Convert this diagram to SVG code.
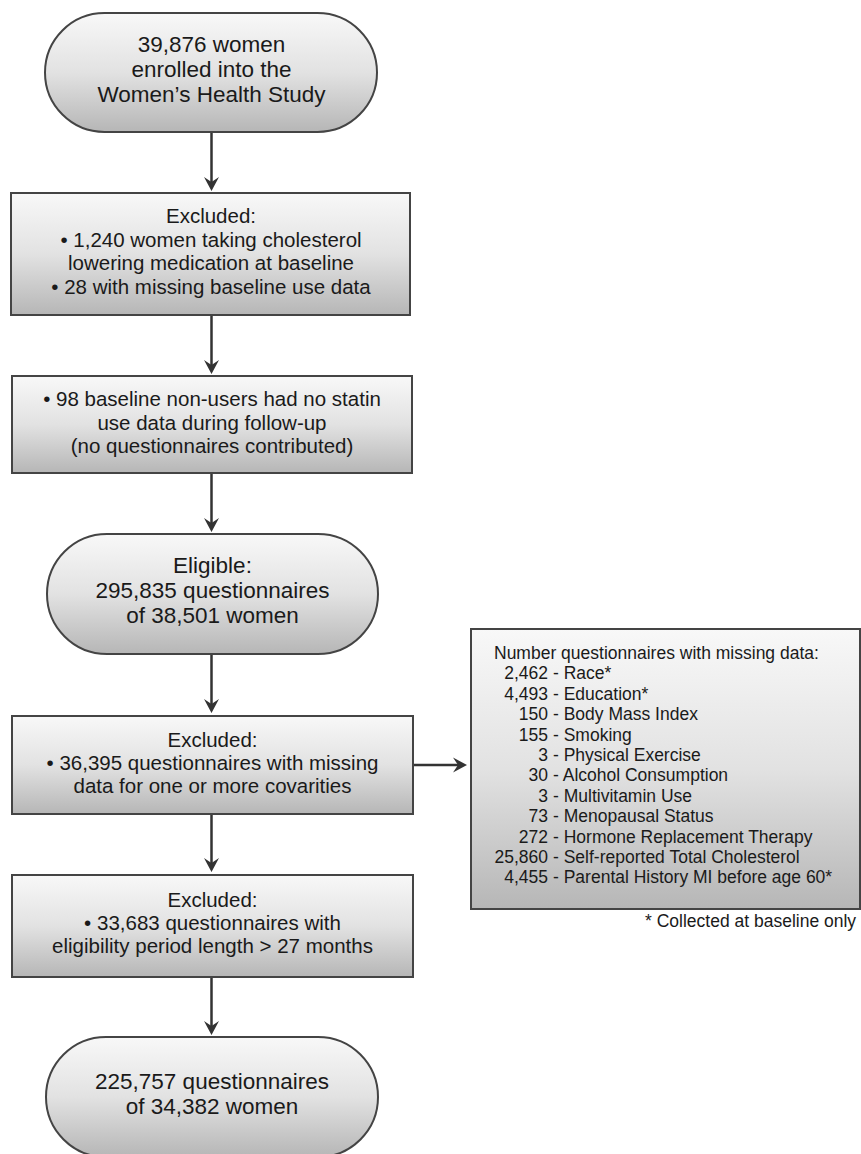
<svg xmlns="http://www.w3.org/2000/svg" width="861" height="1154" viewBox="0 0 861 1154">
  <defs>
    <linearGradient id="g" x1="0" y1="0" x2="0" y2="1">
      <stop offset="0" stop-color="#f8f8f8"/>
      <stop offset="0.5" stop-color="#e2e2e2"/>
      <stop offset="1" stop-color="#b6b6b6"/>
    </linearGradient>
    <marker id="ah" markerUnits="userSpaceOnUse" viewBox="-15 -9 16 18" markerWidth="16" markerHeight="18" refX="-9" refY="0" orient="auto">
      <path d="M0,0 L-14,-7.5 L-9,0 L-14,7.5 Z" fill="#333"/>
    </marker>
    <style>
      .shape { fill: url(#g); stroke: #444; stroke-width: 2; }
      .t { font-family: "Liberation Sans", Arial, Helvetica, sans-serif; fill: #1a1a1a; }
      .big { font-size: 22.5px; text-anchor: middle; }
      .mid { font-size: 20.5px; text-anchor: middle; }
      .sm { font-size: 17.5px; }
      .end { text-anchor: end; }
      .conn { stroke: #333; stroke-width: 2.5; fill: none; marker-end: url(#ah); }
    </style>
  </defs>

  <g id="connectors">
    <path class="conn" d="M211.5,132 V182"/>
    <path class="conn" d="M211.5,315 V365"/>
    <path class="conn" d="M211.5,473 V523"/>
    <path class="conn" d="M211.5,654 V704"/>
    <path class="conn" d="M413,765 H458"/>
    <path class="conn" d="M211.5,814 V863"/>
    <path class="conn" d="M211.5,977 V1026"/>
  </g>

  <g id="enrolled">
    <rect class="shape" x="45" y="13" width="332" height="119" rx="59.5" ry="59.5"/>
    <text class="t big" x="211.5" y="52">39,876 women</text>
    <text class="t big" x="211.5" y="77">enrolled into the</text>
    <text class="t big" x="211.5" y="102">Women’s Health Study</text>
  </g>

  <g id="excluded1">
    <rect class="shape" x="11" y="193" width="399" height="122"/>
    <text class="t mid" x="211" y="223">Excluded:</text>
    <text class="t mid" x="211" y="246.5">• 1,240 women taking cholesterol</text>
    <text class="t mid" x="211" y="270">lowering medication at baseline</text>
    <text class="t mid" x="211" y="293.5">• 28 with missing baseline use data</text>
  </g>

  <g id="nostatin">
    <rect class="shape" x="12" y="376" width="400" height="97"/>
    <text class="t mid" x="212" y="406">• 98 baseline non-users had no statin</text>
    <text class="t mid" x="212" y="429.5">use data during follow-up</text>
    <text class="t mid" x="212" y="453">(no questionnaires contributed)</text>
  </g>

  <g id="eligible">
    <rect class="shape" x="47" y="534" width="331" height="120" rx="60" ry="60"/>
    <text class="t big" x="212.5" y="573">Eligible:</text>
    <text class="t big" x="212.5" y="598">295,835 questionnaires</text>
    <text class="t big" x="212.5" y="623">of 38,501 women</text>
  </g>

  <g id="excluded2">
    <rect class="shape" x="12" y="716" width="401" height="98"/>
    <text class="t mid" x="212.5" y="746.5">Excluded:</text>
    <text class="t mid" x="212.5" y="769.5">• 36,395 questionnaires with missing</text>
    <text class="t mid" x="212.5" y="792.5">data for one or more covarities</text>
  </g>

  <g id="missing">
    <rect class="shape" x="471" y="629" width="389" height="280"/>
    <text class="t sm" x="494" y="659">Number questionnaires with missing data:</text>
    <text class="t sm" y="679.4"><tspan class="end" x="548">2,462</tspan><tspan x="553">- Race*</tspan></text>
    <text class="t sm" y="699.8"><tspan class="end" x="548">4,493</tspan><tspan x="553">- Education*</tspan></text>
    <text class="t sm" y="720.2"><tspan class="end" x="548">150</tspan><tspan x="553">- Body Mass Index</tspan></text>
    <text class="t sm" y="740.6"><tspan class="end" x="548">155</tspan><tspan x="553">- Smoking</tspan></text>
    <text class="t sm" y="761"><tspan class="end" x="548">3</tspan><tspan x="553">- Physical Exercise</tspan></text>
    <text class="t sm" y="781.4"><tspan class="end" x="548">30</tspan><tspan x="553">- Alcohol Consumption</tspan></text>
    <text class="t sm" y="801.8"><tspan class="end" x="548">3</tspan><tspan x="553">- Multivitamin Use</tspan></text>
    <text class="t sm" y="822.2"><tspan class="end" x="548">73</tspan><tspan x="553">- Menopausal Status</tspan></text>
    <text class="t sm" y="842.6"><tspan class="end" x="548">272</tspan><tspan x="553">- Hormone Replacement Therapy</tspan></text>
    <text class="t sm" y="863"><tspan class="end" x="548">25,860</tspan><tspan x="553">- Self-reported Total Cholesterol</tspan></text>
    <text class="t sm" y="883.4"><tspan class="end" x="548">4,455</tspan><tspan x="553">- Parental History MI before age 60*</tspan></text>
    <text class="t sm" x="645" y="927">* Collected at baseline only</text>
  </g>

  <g id="excluded3">
    <rect class="shape" x="12" y="875" width="401" height="102"/>
    <text class="t mid" x="212.5" y="907">Excluded:</text>
    <text class="t mid" x="212.5" y="930">• 33,683 questionnaires with</text>
    <text class="t mid" x="212.5" y="953">eligibility period length &gt; 27 months</text>
  </g>

  <g id="final">
    <rect class="shape" x="46" y="1037" width="332" height="120" rx="60" ry="60"/>
    <text class="t big" x="212" y="1089">225,757 questionnaires</text>
    <text class="t big" x="212" y="1114">of 34,382 women</text>
  </g>
</svg>
